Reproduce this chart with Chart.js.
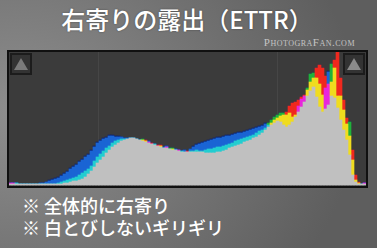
<!DOCTYPE html>
<html>
<head>
<meta charset="utf-8">
<script src="https://cdn.jsdelivr.net/npm/chart.js@4.4.1/dist/chart.umd.min.js"></script>
<style>
  html, body {
    margin: 0;
    padding: 0;
  }
  body {
    width: 377px;
    height: 248px;
    overflow: hidden;
    position: relative;
    background: radial-gradient(ellipse 90% 110% at 5% 45%, #8e8e8e 0%, #747474 55%, #5e5e5e 100%);
    font-family: "Noto Sans CJK JP", "Noto Sans", sans-serif;
  }
  #title {
    position: absolute;
    left: 0;
    top: 3px;
    width: 374px;
    text-align: center;
    color: #fff;
    font-size: 24px;
    font-weight: 500;
    line-height: 32px;
    text-shadow: 0 0 2px rgba(0,0,0,0.4);
  }
  #mark {
    position: absolute;
    right: 22px;
    top: 36px;
    color: #c4c4c4;
    font-family: "Liberation Serif", "DejaVu Serif", serif;
    font-variant: small-caps;
    font-size: 11px;
    letter-spacing: 0.5px;
  }
  #frame {
    position: absolute;
    left: 7px;
    top: 50px;
    width: 357px;
    height: 134px;
    border: 2px solid #101010;
    background: #3b3b3b;
  }
  #frame canvas {
    position: absolute;
    left: 0;
    top: 0;
  }
  .clip {
    position: absolute;
    top: 1px;
    width: 18px;
    height: 18px;
    border: 2px solid #1c1c1c;
    background: #333;
  }
  .clip span {
    position: absolute;
    left: 2px;
    top: 3px;
    width: 0;
    height: 0;
    border-left: 7px solid transparent;
    border-right: 7px solid transparent;
    border-bottom: 12px solid #7a7a7a;
  }
  #clipL { left: 1px; }
  #clipR { right: 1px; }
  #clipR span { border-bottom-color: #8a8a8a; }
  .note {
    position: absolute;
    left: 22px;
    color: #fff;
    font-size: 18px;
    font-weight: 500;
    line-height: 22px;
  }
</style>
</head>
<body>
<div id="title">右寄りの露出（ETTR）</div>
<div id="mark">PhotograFan.com</div>
<div id="frame">
  <canvas id="histo" width="357" height="134"></canvas>
  <div class="clip" id="clipL"><span></span></div>
  <div class="clip" id="clipR"><span></span></div>
</div>
<div class="note" style="top:194px">※ 全体的に右寄り</div>
<div class="note" style="top:216px">※ 白とびしないギリギリ</div>

<script>
// Histogram channel heights, 119 bins from shadows (left) to highlights (right)
const redValues = [
  2, 2, 1, 1, 1, 1, 1, 1, 1, 1, 1, 1, 1, 1, 1, 1, 1, 1, 2, 2,
  3, 4, 4, 5, 6, 8, 11, 14, 18, 22, 25, 28, 32, 35, 38, 40, 42, 44, 45, 46,
  47, 47, 46, 45, 45, 45, 43, 42, 40, 40, 40, 37, 38, 36, 36, 35, 35, 33, 33, 34,
  33, 33, 33, 33, 33, 32, 32, 32, 32, 33, 33, 34, 35, 37, 38, 39, 40, 41, 43, 44,
  45, 47, 48, 50, 52, 55, 58, 62, 65, 67, 69, 70, 73, 79, 82, 83, 85, 88, 90, 95,
  103, 107, 117, 120, 117, 109, 101, 103, 125, 133, 107, 85, 67, 49, 35, 10, 3, 1, 2
];
const greenValues = [
  1, 1, 2, 1, 1, 1, 1, 1, 1, 1, 1, 1, 1, 1, 1, 1, 2, 3, 4, 5,
  6, 7, 8, 10, 12, 14, 16, 19, 24, 28, 31, 34, 37, 39, 42, 44, 45, 46, 46, 46,
  47, 47, 46, 45, 46, 44, 42, 41, 41, 39, 39, 37, 37, 37, 37, 35, 34, 34, 33, 33,
  34, 34, 35, 34, 34, 35, 36, 36, 37, 38, 38, 39, 40, 41, 42, 44, 45, 46, 47, 48,
  49, 50, 52, 54, 55, 57, 62, 65, 68, 70, 72, 72, 70, 72, 68, 70, 73, 78, 83, 97,
  111, 112, 107, 101, 90, 76, 80, 121, 117, 89, 89, 75, 61, 63, 25, 5, 2, 1, 1
];
const blueValues = [
  2, 2, 2, 1, 1, 1, 1, 1, 1, 1, 2, 2, 3, 4, 5, 6, 7, 9, 11, 13,
  16, 18, 20, 23, 25, 28, 30, 34, 38, 42, 44, 46, 47, 49, 49, 48, 48, 48, 47, 47,
  47, 47, 46, 45, 44, 43, 44, 41, 41, 39, 38, 38, 39, 36, 35, 36, 35, 34, 35, 33,
  36, 38, 40, 41, 42, 43, 44, 45, 46, 47, 47, 48, 49, 49, 50, 51, 52, 52, 53, 54,
  55, 56, 57, 58, 59, 61, 60, 60, 62, 64, 63, 60, 58, 60, 63, 68, 79, 86, 89, 89,
  94, 98, 88, 78, 73, 97, 113, 89, 87, 77, 65, 55, 45, 30, 10, 3, 1, 1, 2
];

// Lightroom-like channel colours (pair keys are alphabetical)
const channelColors = { r: '#f0281e', g: '#1fb23a', b: '#1a64d4' };
const pairColors = { gr: '#f0dc1e', bg: '#22cdd0', br: '#e826dc' };
const grayColor = '#c0c0c0';
const blueEdge = '#0d2473';

// Split every bin into: overlap of all three (gray), overlap of top two, top channel alone
function buildLayers() {
  const base = [], mid = [], top = [], edge = [], midCol = [], topCol = [];
  for (let i = 0; i < redValues.length; i++) {
    const ch = [
      { k: 'r', v: redValues[i] },
      { k: 'g', v: greenValues[i] },
      { k: 'b', v: blueValues[i] }
    ].sort((a, b) => a.v - b.v);
    base.push(ch[0].v);
    mid.push(ch[1].v - ch[0].v);
    top.push(ch[2].v - ch[1].v);
    // the blue channel shows a thin dark rim where it sits on top
    edge.push(ch[2].k === 'b' && ch[2].v - ch[1].v > 2 ? 1 : 0);
    const pair = [ch[1].k, ch[2].k].sort().join('');
    midCol.push(pairColors[pair]);
    topCol.push(channelColors[ch[2].k]);
  }
  return { base, mid, top, edge, midCol, topCol };
}

// Faint quarter lines like the Lightroom histogram
const quarterLines = {
  id: 'quarterLines',
  beforeDatasetsDraw(chart) {
    const { ctx, chartArea } = chart;
    ctx.save();
    ctx.strokeStyle = 'rgba(255,255,255,0.06)';
    ctx.lineWidth = 1;
    [0.25, 0.75].forEach(f => {
      const x = Math.round(chartArea.left + chartArea.width * f) + 0.5;
      ctx.beginPath();
      ctx.moveTo(x, chartArea.top);
      ctx.lineTo(x, chartArea.bottom);
      ctx.stroke();
    });
    ctx.restore();
  }
};

document.addEventListener('DOMContentLoaded', function() {
  const layers = buildLayers();
  const labels = redValues.map((_, i) => i);
  const common = { borderWidth: 0, barPercentage: 1, categoryPercentage: 1 };

  new Chart(document.getElementById('histo'), {
    type: 'bar',
    data: {
      labels: labels,
      datasets: [
        Object.assign({ label: 'all', data: layers.base, backgroundColor: grayColor }, common),
        Object.assign({ label: 'two', data: layers.mid, backgroundColor: layers.midCol }, common),
        Object.assign({ label: 'one', data: layers.top, backgroundColor: layers.topCol }, common),
        Object.assign({ label: 'rim', data: layers.edge, backgroundColor: blueEdge }, common)
      ]
    },
    options: {
      responsive: false,
      animation: false,
      devicePixelRatio: 1,
      layout: { padding: 0 },
      plugins: {
        legend: { display: false },
        tooltip: { enabled: false }
      },
      scales: {
        x: { stacked: true, display: false },
        y: { stacked: true, display: false, min: -1, max: 133 }
      }
    },
    plugins: [quarterLines]
  });
});
</script>
</body>
</html>
